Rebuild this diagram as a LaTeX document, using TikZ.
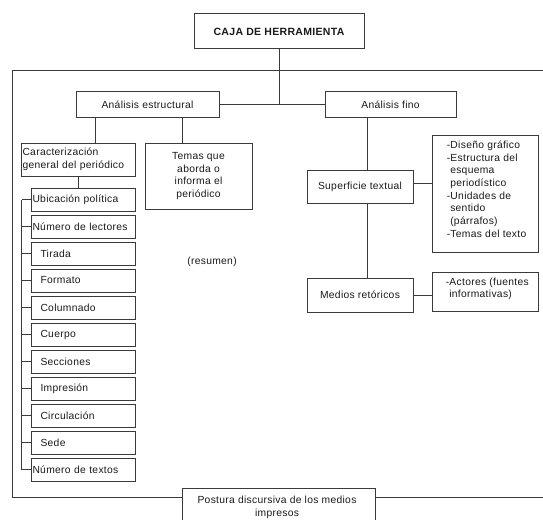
\documentclass[tikz,border=0pt]{standalone}
\usepackage{fontspec}
\setmainfont[LetterSpace=3]{Liberation Sans}
\definecolor{linegray}{HTML}{3A3A3A}
\definecolor{txtgray}{HTML}{1A1A1A}

\begin{document}
\begin{tikzpicture}[x=1pt,y=1pt]
  \tikzstyle{every node}+=[inner sep=0pt, text=txtgray, font=\fontsize{10.3}{12.7}\selectfont]
  \tikzstyle{caja}=[draw=linegray, line width=0.9pt, rectangle]
  \tikzstyle{liga}=[draw=linegray, line width=0.9pt]
  \clip (0,0) rectangle (543,-519);
  \fill [white] (0,0) rectangle (543,-519);
  % cabecera
  \node [caja, minimum width=170pt, minimum height=35pt, font=\fontsize{10.5}{12}\selectfont\bfseries] (herr) at (279,-31.4) {CAJA DE HERRAMIENTA};
  \node [caja, minimum width=143pt, minimum height=25.5pt] (estr) at (147.5,-104.3) {Análisis estructural};
  \node [caja, minimum width=131pt, minimum height=25.5pt] (fino) at (390.5,-104.3) {Análisis fino};
  % rama estructural
  \node [caja, minimum width=114pt, minimum height=33pt, text width=111pt, align=left] (carac) at (78,-159.5) {Caracterización\\general del periódico};
  \node [caja, minimum width=107pt, minimum height=66pt, align=center] (temas) at (198.5,-176) {Temas que\\aborda o\\informa el\\periódico};
  \node (resumen) at (212,-262) {(resumen)};
  \foreach \t/\d [count=\i] in {Ubicación política/0, Número de lectores/0, Tirada/8, Formato/8, Columnado/8, Cuerpo/8, Secciones/8, Impresión/8, Circulación/8, Sede/8, Número de textos/0}
    \node [caja, minimum width=104pt, minimum height=23pt, text width=101pt, align=left] (it\i) at (83,{-199.5-27*(\i-1)}) {\hspace*{\d pt}\t};
  % rama fino
  \node [caja, minimum width=106pt, minimum height=33pt] (sup) at (360,-186.5) {Superficie textual};
  \node [caja, minimum width=106pt, minimum height=117pt] (lista) at (485,-193.5) {};
  \node [anchor=north west, align=left] (lista-txt) at ([xshift=15pt,yshift=-6pt]lista.north west) {-Diseño gráfico\\-Estructura del\\\hspace*{3.5pt}esquema\\\hspace*{3.5pt}periodístico\\-Unidades de\\\hspace*{3.5pt}sentido\\\hspace*{3.5pt}(párrafos)\\-Temas del texto};
  \node [caja, minimum width=106pt, minimum height=34pt] (medios) at (360,-295) {Medios retóricos};
  \node [caja, minimum width=106pt, minimum height=39pt] (actores) at (485,-291.5) {};
  \node [anchor=north west, align=left] (actores-txt) at ([xshift=14pt,yshift=-6pt]actores.north west) {-Actores (fuentes\\\hspace*{3.5pt}informativas)};
  % pie
  \node [caja, minimum width=193pt, minimum height=44pt, align=center] (postura) at (278.5,-510) {};
  \node [align=center] (postura-txt) at (277,-507.5) {Postura discursiva de los medios\\impresos};
  % marco
  \coordinate (fr-ne) at (543,-70);
  \coordinate (fr-nw) at (12,-70);
  \coordinate (fr-sw) at (12,-497);
  \coordinate (fr-se) at (543,-497);
  \draw [liga] (fr-ne) -- (fr-nw) -- (fr-sw) -- (fr-sw -| postura.west);
  \draw [liga] (postura.east |- fr-se) -- (fr-se);
  % conectores
  \draw [liga] (estr.east) -- (fino.west);
  \draw [liga] (herr.south) -- (herr.south |- estr.east);
  \draw [liga] ([xshift=17pt]carac.north) -- ([xshift=17pt]carac.north |- estr.south);
  \draw [liga] ([xshift=-16pt]temas.north) -- ([xshift=-16pt]temas.north |- estr.south);
  \draw [liga] (carac.south) -- (carac.south |- it1.north);
  \coordinate (tronco) at ([xshift=-9pt]it1.west);
  \draw [liga] (tronco) -- (tronco |- it11.west);
  \foreach \i in {1,...,11}
    \draw [liga] (it\i.west) -- (it\i.west -| tronco);
  \draw [liga] ([xshift=7pt]sup.north) -- ([xshift=7pt]sup.north |- fino.south);
  \draw [liga] ([xshift=7pt]sup.south) -- ([xshift=7pt]sup.south |- medios.north);
  \draw [liga] ([yshift=3pt]sup.east) -- ([yshift=3pt]sup.east -| lista.west);
  \draw [liga] (medios.east) -- (medios.east -| actores.west);
\end{tikzpicture}
\end{document}
